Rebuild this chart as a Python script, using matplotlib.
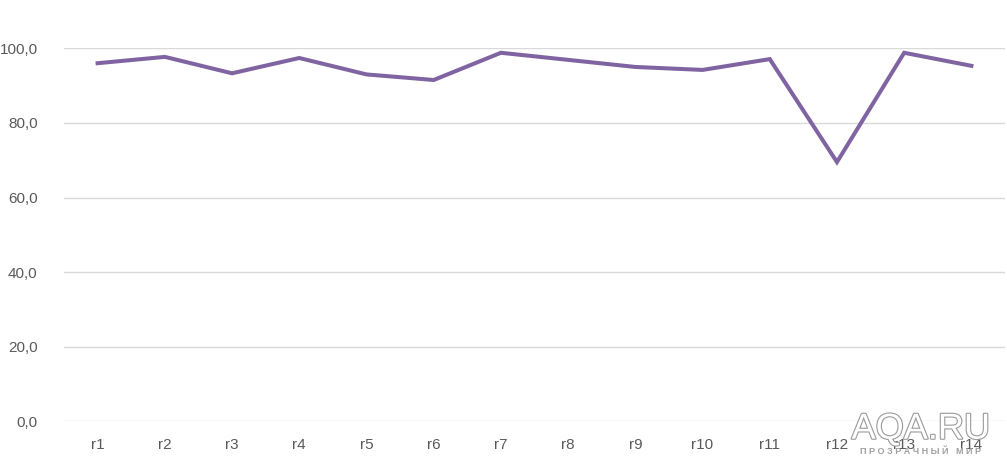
import matplotlib.pyplot as plt
import matplotlib.patheffects as pe
from matplotlib.ticker import FuncFormatter

categories = ["r1", "r2", "r3", "r4", "r5", "r6", "r7", "r8", "r9", "r10", "r11", "r12", "r13", "r14"]
values = [96.0, 97.7, 93.3, 97.4, 93.0, 91.5, 98.8, 96.9, 95.0, 94.2, 97.1, 69.5, 98.8, 95.3]
yticks = [0, 20, 40, 60, 80, 100]

plt.rcParams['font.family'] = ['Liberation Sans', 'DejaVu Sans']

fig = plt.figure(figsize=(10.07, 4.66), dpi=100)
ax = fig.add_axes([64/1007, 44.7/466, 941/1007, 373/466])

x = list(range(len(categories)))
ax.plot(x, values, color="#8064A2", lw=2.9, solid_joinstyle="miter", zorder=3)

ax.set_xlim(-0.5, len(categories) - 0.5)
ax.set_ylim(0, 100)
ax.set_yticks(yticks)
ax.yaxis.set_major_formatter(FuncFormatter(lambda v, p: f"{v:.1f}".replace(".", ",")))
ax.set_xticks(x)
ax.set_xticklabels(categories)
ax.grid(axis="y", color="#D9D9D9", lw=1)
ax.set_axisbelow(True)
for s in ax.spines.values():
    s.set_visible(False)
ax.tick_params(axis="both", length=0, colors="#595959", labelsize=11)
ax.tick_params(axis="y", pad=19)
ax.tick_params(axis="x", pad=12)

# watermark
fig.text(0.9145, 0.079, "AQA.RU", fontsize=26, color="white", ha="center", va="center",
         path_effects=[pe.withStroke(linewidth=1.6, foreground="#9a9a9a")], zorder=10)
fig.text(0.9145, 0.032, "П Р О З Р А Ч Н Ы Й   М И Р", fontsize=6.5, color="#a0a0a0",
         ha="center", va="center", fontweight="bold", zorder=10)

fig.savefig("out.png", dpi=100)
